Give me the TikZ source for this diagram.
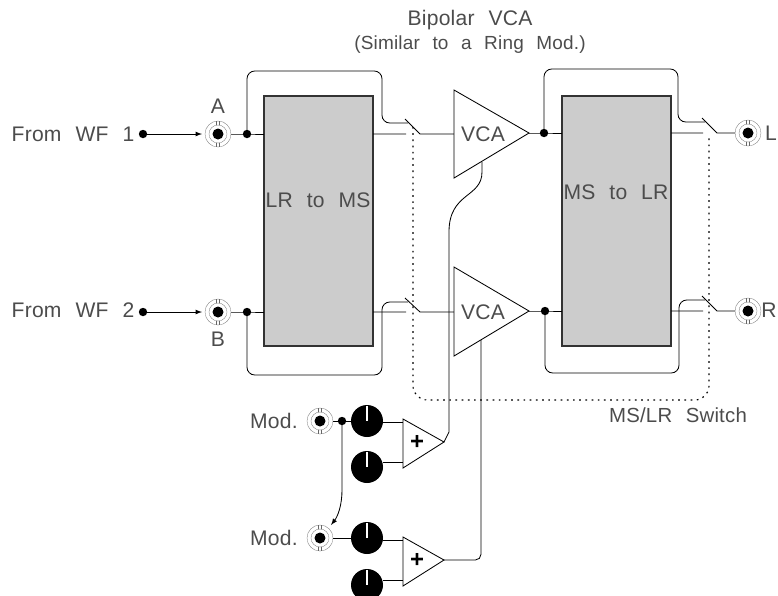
\documentclass[tikz,border=0pt]{standalone}
\usepackage{fontspec}
\setmainfont[WordSpace=2.3,LetterSpace=1]{Liberation Sans}
\usepackage{tkz-euclide}
\tikzset{
txt/.style={inner sep=0pt,text=black!70,font=\fontsize{15}{17}\selectfont},
plus/.style={inner sep=0pt,font=\bfseries\fontsize{17}{19}\selectfont},
wire/.style={semithick,rounded corners=5.5pt},
graybox/.style={fill=black!20,draw=black!80,thick},
amp/.style={draw,semithick,fill=white,line join=miter},
sw/.style={thick,dash pattern=on 1.2pt off 3.2pt,rounded corners=10pt},
}
\begin{document}
\begin{tikzpicture}[x=0.025cm,y=-0.025cm,semithick]
\clip (0,0) rectangle (778,595);
% boxes and amplifiers
\tkzDefPoints{264/96/BA,373/346/BB,562/96/BC,671/346/BD}
\tkzDefPoints{454/90/UA,454/178/UB,529/133/UC,454/267/VA,454/356/VB,529/311/VC}
\tkzDefPoints{403/419/MA,403/468/MB,444/442/MC,403/537/NA,403/586/NB,444/560/NC}
\filldraw[graybox](BA)rectangle(BB);
\filldraw[graybox](BC)rectangle(BD);
% inputs
\tkzDefPoints{143/134/I,143/312/J,218/134/A,218/312/B,247/134/P,247/312/Q}
\tkzDefPoints{544/133/R,545/311/S,748/133/L,748/311/T}
\tkzDefPoints{320/421/K,320/538/M,342/421/W,367/421/KA,367/467/KB,367/538/KC,367/585/KD}
\draw[-latex](I)--(202,134);
\draw[-latex](J)--(202,312);
\draw(A)--(P)--(264,134)(B)--(Q)--(264,312)(UC)--(R)--(562,133)(VC)--(S)--(562,311);
% switch contacts
\tkzDefPoints{405/119/CA,420/134/CB,405/298/CC,420/312/CD,702/118/CE,717/133/CF,702/296/CG,717/311/CH}
\draw(373,134)--(406,134)(CA)--(CB)--(454,134);
\draw(373,312)--(406,312)(CC)--(CD)--(454,312);
\draw(671,133)--(703,133)(CE)--(CF)--(L);
\draw(671,311)--(703,311)(CG)--(CH)--(T);
% bypass loops
\draw[wire](P)--(247,71)--(382,71)--(382,123)--(408,123);
\draw[wire](Q)--(247,375)--(382,375)--(382,302)--(408,302);
\draw[wire](R)--(544,69)--(678,69)--(678,122)--(705,122);
\draw[wire](S)--(545,373)--(679,373)--(679,300)--(705,300);
\draw[sw](413,127)--(413,400)--(709,400)--(709,135);
\filldraw[amp](UA)--(UB)--(UC)--cycle;
\filldraw[amp](VA)--(VB)--(VC)--cycle;
\filldraw[amp](MA)--(MB)--(MC)--cycle;
\filldraw[amp](NA)--(NB)--(NC)--cycle;
% control wires
\draw(482,162)--(482,172)..controls(482,198)and(449,192)..(449,232)--(449,432)--(MC);
\draw[rounded corners=4pt](481,340)--(481,560)--(NC);
% knobs
\draw(K)--(KA)(M)--(KC);
\draw(383,422)--(403,422)(383,462)--(403,462)(383,540)--(403,540)(383,580)--(403,580);
\draw[-latex](W)--(342,490)..controls(342,505)and(338,516)..(331,525);
\foreach \p in {KA,KB,KC,KD}{
\fill (\p) circle (16);
\draw[white,line width=1.4pt]([yshift=0.38cm]\p)--(\p);
}
\foreach \p in {A,B,K,M,L,T}{
\filldraw[draw=black!60,fill=white,very thin](\p) circle (13);
\draw[black!60,very thin](\p) circle (9);
\draw[black!60,very thin]([xshift=-1pt,yshift=0.32cm]\p)--([xshift=-1pt,yshift=0.22cm]\p)
([xshift=1pt,yshift=0.32cm]\p)--([xshift=1pt,yshift=0.22cm]\p)
([xshift=-1pt,yshift=-0.32cm]\p)--([xshift=-1pt,yshift=-0.22cm]\p)
([xshift=1pt,yshift=-0.32cm]\p)--([xshift=1pt,yshift=-0.22cm]\p);
\fill (\p) circle (5.5);
}
\foreach \p in {I,J,P,Q,R,S,W}{\fill (\p) circle (4.2);}
% labels
\node[txt] (wfa) at (73,134) {From WF 1};
\node[txt] (wfb) at (73,310) {From WF 2};
\node[txt] (lbla) at (218,106) {A};
\node[txt] (lblb) at (218,339) {B};
\node[txt] (lbll) at (771,133) {L};
\node[txt] (lblr) at (769,310) {R};
\node[txt] (lrms) at (318,200) {LR to MS};
\node[txt] (mslr) at (616,192) {MS to LR};
\node[txt] (vcau) at (483,134) {VCA};
\node[txt] (vcav) at (483,312) {VCA};
\node[txt] (moda) at (274,421) {Mod.};
\node[txt] (modb) at (274,538) {Mod.};
\node[txt] (bip) at (470,20) {Bipolar VCA};
\node[txt,font=\fontsize{13.5}{16}\selectfont] (sim) at (470,45) {(Similar to a Ring Mod.)};
\node[txt,font=\fontsize{14.5}{17}\selectfont] (swt) at (678,415) {MS/LR Switch};
\node[plus] (plu) at (417,442) {+};
\node[plus] (plv) at (417,560) {+};
\end{tikzpicture}
\end{document}
